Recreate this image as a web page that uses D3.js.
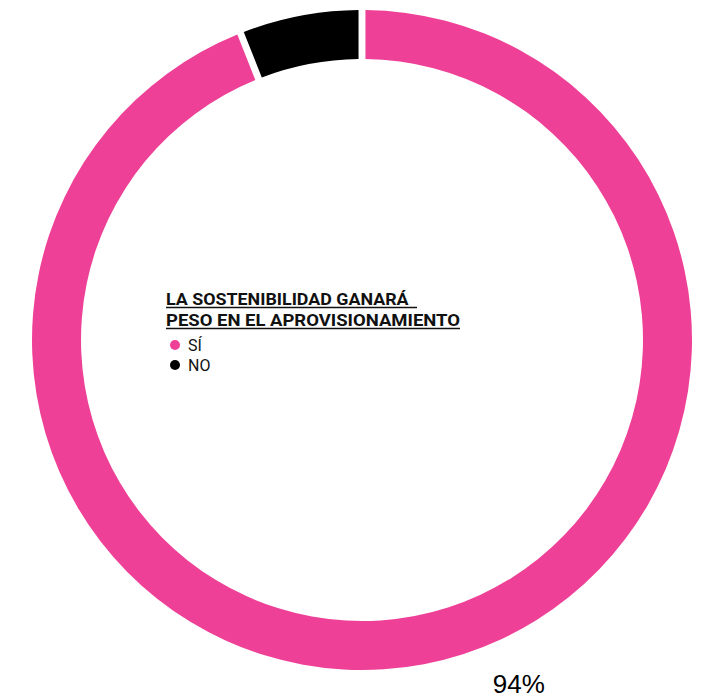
<!DOCTYPE html>
<html><head><meta charset="utf-8">
<script src="https://cdn.jsdelivr.net/npm/d3@7"></script>
<style>
html,body{margin:0;padding:0;background:#fff;}
svg{display:block;}
</style></head>
<body>
<script>
const categories = ["SÍ", "NO"];
const values = [94, 6];
const colors = ["#EE4097", "#000000"];
const titleLines = ["LA SOSTENIBILIDAD GANARÁ ", "PESO EN EL APROVISIONAMIENTO"];
const valueLabel = "94%";

const W = 712, H = 700;
const cx = 362, cy = 340, outerR = 330, innerR = 281;

const svg = d3.select("body").append("svg").attr("width", W).attr("height", H);
const g = svg.append("g").attr("transform", `translate(${cx},${cy})`);

const data = categories.map((c, i) => ({cat: c, value: values[i], color: colors[i]}));
const pie = d3.pie().value(d => d.value).sort(null);
const arc = d3.arc().innerRadius(innerR).outerRadius(outerR).padAngle(0.016);
const arcs = pie(data);

g.selectAll("path").data(arcs).join("path")
  .attr("d", arc).attr("fill", d => d.data.color);

// value label for first slice
const labelArc = d3.arc().innerRadius(378).outerRadius(378);
const a0 = arcs[0];
const ang = a0.endAngle * 0.4595;
const lp = labelArc.centroid({startAngle: ang, endAngle: ang});
g.append("text").attr("x", lp[0]).attr("y", lp[1] + 9)
  .attr("text-anchor", "middle")
  .style("font-family", "'Liberation Sans', Arial, sans-serif")
  .style("font-size", "26px").attr("fill", "#000")
  .text(valueLabel);

// legend
const lg = svg.append("g").attr("transform", "translate(166,0)");
const titleWidths = [251, 294];
titleLines.forEach((t, i) => {
  const y = 305 + i * 21;
  lg.append("text").attr("x", 0).attr("y", y)
    .style("font-family", "Roboto, 'Liberation Sans', sans-serif")
    .style("font-weight", "700").style("font-size", "16.5px")
    .style("white-space", "pre")
    .attr("textLength", titleWidths[i] - (i === 0 ? 4 : 0)).attr("lengthAdjust", "spacingAndGlyphs")
    .attr("fill", "#111").text(t);
  lg.append("line").attr("x1", 0).attr("x2", titleWidths[i])
    .attr("y1", y + 2.5).attr("y2", y + 2.5)
    .attr("stroke", "#111").attr("stroke-width", 1.5);
});
data.forEach((d, i) => {
  const y = 345 + i * 20;
  lg.append("circle").attr("cx", 9).attr("cy", y).attr("r", 5).attr("fill", d.color);
  lg.append("text").attr("x", 22).attr("y", y + 5.5)
    .style("font-family", "Roboto, 'Liberation Sans', sans-serif")
    .style("font-size", "16px").attr("fill", "#111").text(d.cat);
});
</script>
</body></html>
